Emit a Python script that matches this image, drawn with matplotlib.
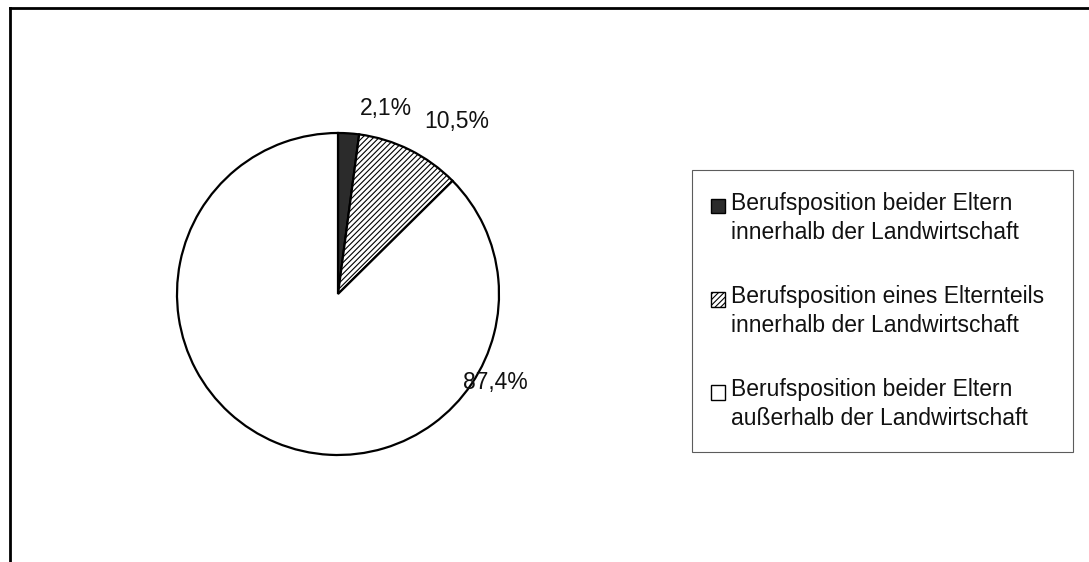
import matplotlib
matplotlib.use("Agg")
import matplotlib.pyplot as plt
from matplotlib.lines import Line2D
from matplotlib.patches import Patch, Rectangle
from matplotlib.legend_handler import HandlerPatch

plt.rcParams['font.family'] = ['Liberation Sans', 'DejaVu Sans']
plt.rcParams['hatch.linewidth'] = 0.8

categories = [
    "Berufsposition beider Eltern\ninnerhalb der Landwirtschaft",
    "Berufsposition eines Elternteils\ninnerhalb der Landwirtschaft",
    "Berufsposition beider Eltern\naußerhalb der Landwirtschaft",
]
values = [2.1, 10.5, 87.4]
value_labels = ["2,1%", "10,5%", "87,4%"]

W, H = 1089, 562
fig = plt.figure(figsize=(W / 100, H / 100), dpi=100)
fig.patch.set_facecolor("white")

# pie axes (pixel box -> figure fraction)
cx, cy, r = 338, 294, 161
ax = fig.add_axes([(cx - r) / W, (H - cy - r) / H, 2 * r / W, 2 * r / H])

colors = ["#2b2b2b", "white", "white"]
hatches = [None, "//////", None]
wedges, _ = ax.pie(values, startangle=90, counterclock=False, colors=colors,
                   radius=1.0, wedgeprops=dict(edgecolor="black", linewidth=1.6))
for w, h in zip(wedges, hatches):
    if h:
        w.set_hatch(h)
ax.set_xlim(-1, 1)
ax.set_ylim(-1, 1)
ax.set_aspect("equal")
ax.axis("off")

FS = 16.5
# label positions (relative to radius)
label_pos = [(0.30, 1.15), (0.74, 1.07), (0.98, -0.55)]
for (lx, ly), t in zip(label_pos, value_labels):
    ax.text(lx, ly, t, ha="center", va="center", fontsize=FS, color="#111111",
            clip_on=False)


def top_square(legend, orig_handle, xdescent, ydescent, width, height, fontsize):
    # square aligned with the first line of a two-line label
    return Rectangle((-xdescent - 2, -ydescent + 0.55 * fontsize), width, height)


handles = [Patch(facecolor=c, edgecolor="black", hatch=h, linewidth=1.0)
           for c, h in zip(colors, hatches)]
leg = fig.legend(handles, categories, loc="upper left",
                 bbox_to_anchor=(692 / W, 1 - 451 / H, (1073 - 692) / W, (451 - 170) / H),
                 mode="expand", fontsize=FS, frameon=True, fancybox=False,
                 handlelength=0.62, handleheight=0.62, handletextpad=0.15,
                 labelspacing=1.8, borderpad=0.95, borderaxespad=0,
                 handler_map={Patch: HandlerPatch(patch_func=top_square)})
leg.get_frame().set_edgecolor("#333333")
leg.get_frame().set_linewidth(0.8)
for t in leg.get_texts():
    t.set_color("#111111")
    t.set_linespacing(1.33)

# outer frame (top and left edges)
fig.add_artist(Line2D([10 / W, 1.0], [1 - 8 / H, 1 - 8 / H], color="black", lw=2,
                      transform=fig.transFigure))
fig.add_artist(Line2D([10 / W, 10 / W], [0, 1 - 8 / H], color="black", lw=2,
                      transform=fig.transFigure))

fig.savefig("out.png", dpi=100, facecolor="white")
